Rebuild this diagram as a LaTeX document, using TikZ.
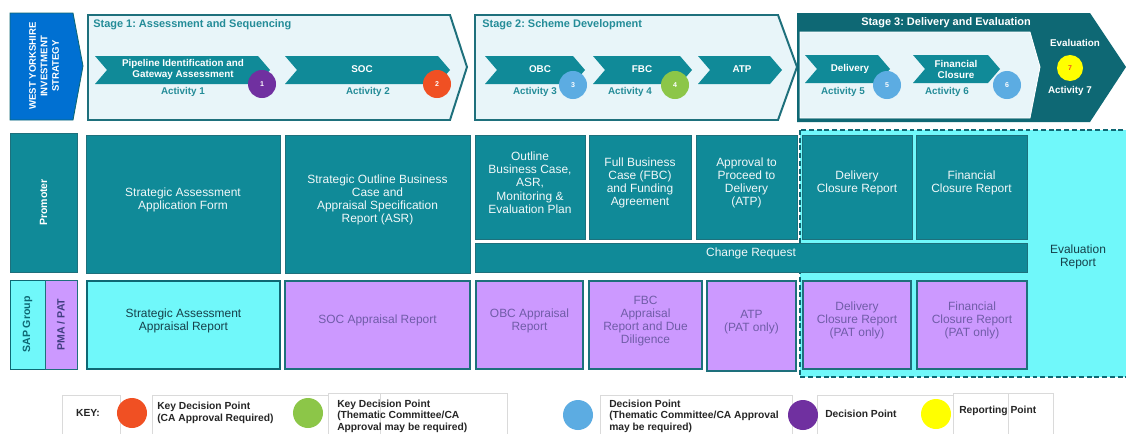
\documentclass[tikz,border=0pt]{standalone}
\usepackage{fontspec}
\setmainfont{Liberation Sans}
\usetikzlibrary{fit,positioning}

\definecolor{wyblue}{RGB}{0,112,210}
\definecolor{tealbox}{RGB}{16,138,152}
\definecolor{tealdark}{RGB}{14,104,116}
\definecolor{tealline}{RGB}{30,112,124}
\definecolor{stagetext}{RGB}{36,140,152}
\definecolor{stagefill}{RGB}{232,245,249}
\definecolor{cyanbox}{RGB}{112,248,250}
\definecolor{saptext}{RGB}{22,64,74}
\definecolor{lilac}{RGB}{204,153,255}
\definecolor{lilactext}{RGB}{112,92,168}
\definecolor{pmatext}{RGB}{64,62,128}
\definecolor{dpurple}{RGB}{112,48,160}
\definecolor{dorange}{RGB}{240,80,35}
\definecolor{dblue}{RGB}{92,172,226}
\definecolor{dgreen}{RGB}{140,198,72}
\definecolor{dyellow}{RGB}{255,255,0}
\definecolor{keyline}{RGB}{218,218,218}

\frenchspacing

\begin{document}
\begin{tikzpicture}[x=0.025cm, y=-0.025cm,
    every node/.style={font=\fontsize{8.5}{9.3}\selectfont},
    promobox/.style={draw=tealline, fill=tealbox, text=white!94!tealbox, align=center, inner sep=0pt, line width=0.6pt},
    patbox/.style={draw=tealline, fill=lilac, text=lilactext, align=center, inner sep=0pt, line width=0.9pt},
    sapbox/.style={draw=tealdark, fill=cyanbox, text=saptext, align=center, inner sep=0pt, line width=1pt},
    stagetitle/.style={font=\fontsize{7.8}{8.5}\selectfont\bfseries, text=stagetext, anchor=west, inner sep=0pt},
    actlabel/.style={font=\fontsize{7}{8}\selectfont\bfseries, text=stagetext, inner sep=0pt},
    acttext/.style={font=\fontsize{7}{7.8}\selectfont\bfseries, text=white, align=center, inner sep=0pt},
    decpt/.style={circle, minimum size=0.7cm, inner sep=0pt, text=white, font=\fontsize{5}{6}\selectfont\bfseries},
    keybox/.style={draw=keyline, line width=0.6pt},
    keytext/.style={font=\fontsize{7.3}{8.2}\selectfont\bfseries, text=black!85, align=left, anchor=west, inner sep=0pt},
    rowlabel/.style={rotate=90, font=\fontsize{7.5}{8.5}\selectfont\bfseries, inner sep=0pt, align=center}]

\useasboundingbox[fill=white] (0,0) rectangle (1126,434);

% strategy tab
\draw[fill=wyblue, draw=tealdark, line width=0.6pt] (10,13) -- (73,13) -- (83,66) -- (73,120) -- (10,120) -- cycle;
\node[rowlabel, text=white, font=\fontsize{6.8}{8.2}\selectfont\bfseries] (wyis) at (44,66) {WEST YORKSHIRE\\INVESTMENT\\STRATEGY};

% stage banners
\draw[fill=stagefill, draw=tealline, line width=1.4pt] (88,15) -- (450,15) -- (467,67) -- (450,120) -- (88,120) -- cycle;
\draw[fill=stagefill, draw=tealline, line width=1.4pt] (475,15) -- (778,15) -- (797,67) -- (778,120) -- (475,120) -- cycle;
\fill[tealdark] (797,13) -- (1090,13) -- (1126,67) -- (1090,122) -- (797,122) -- cycle;
\draw[fill=stagefill, draw=white, line width=0.6pt] (800,32) -- (1030,32) -- (1040,67) -- (1030,118) -- (800,118) -- cycle;

\node[stagetitle] (stage1) at (93,25) {Stage 1: Assessment and Sequencing};
\node[stagetitle] (stage2) at (482,25) {Stage 2: Scheme Development};
\node[stagetitle, anchor=center, text=white] (stage3) at (946,23) {Stage 3: Delivery and Evaluation};

% activity arrows
\foreach \xa/\xb/\ya in {95/270/56, 285/450/56, 485/585/56, 593/692/56, 698/782/56, 805/890/55, 913/1000/55}
  \fill[tealbox] (\xa,\ya) -- (\xb-12,\ya) -- (\xb,\ya+14) -- (\xb-12,\ya+28) -- (\xa,\ya+28) -- (\xa+12,\ya+14) -- cycle;

\node[acttext] (pipe) at (183,69) {Pipeline Identification and\\Gateway Assessment};
\node[acttext] (soc) at (362,69) {SOC};
\node[acttext] (obc) at (540,69) {OBC};
\node[acttext] (fbc) at (642,69) {FBC};
\node[acttext] (atp) at (742,69) {ATP};
\node[acttext] (deliv) at (850,69) {Delivery};
\node[acttext] (fincl) at (956,69) {Financial\\Closure};

\node[actlabel] (act1) at (183,92) {Activity 1};
\node[actlabel] (act2) at (368,92) {Activity 2};
\node[actlabel] (act3) at (535,92) {Activity 3};
\node[actlabel] (act4) at (630,92) {Activity 4};
\node[actlabel] (act5) at (843,92) {Activity 5};
\node[actlabel] (act6) at (947,92) {Activity 6};
\node[actlabel, text=white] (act7) at (1070,91) {Activity 7};
\node[actlabel, text=white] (evaltitle) at (1075,43) {Evaluation};

\node[decpt, fill=dpurple] (dp1) at (262,84) {1};
\node[decpt, fill=dorange] (dp2) at (437,84) {2};
\node[decpt, fill=dblue] (dp3) at (573,85) {3};
\node[decpt, fill=dgreen] (dp4) at (675,85) {4};
\node[decpt, fill=dblue] (dp5) at (887,85) {5};
\node[decpt, fill=dblue] (dp6) at (1007,85) {6};
\node[decpt, fill=dyellow, text=dorange, minimum size=0.65cm] (dp7) at (1070,68) {7};

% evaluation area
\draw[fill=cyanbox, draw=tealdark, line width=1pt, dash pattern=on 3.5pt off 2pt] (800,130) rectangle (1140,377);
\node[text=saptext, align=center] (evalrep) at (1078,257) {Evaluation\\Report};

% promoter row
\node[promobox, fit={(10,133) (77,272)}] (prombox) {};
\node[rowlabel, text=white] (promlabel) at (prombox.center) {Promoter};

\node[promobox, fit={(86,135) (280,273)}] (saform) {Strategic Assessment\\Application Form};
\node[promobox, fit={(285,135) (470,273)}] (socasr) {Strategic Outline  Business\\Case and\\Appraisal Specification\\Report (ASR)};
\node[promobox, fit={(475,135) (585,239)}] (obcplan) {Outline\\Business Case,\\ASR,\\Monitoring \&\\Evaluation Plan};
\node[promobox, fit={(589,135) (691,239)}] (fbcfund) {Full Business\\Case (FBC)\\and Funding\\Agreement};
\node[promobox, fit={(696,135) (797,239)}] (atpdel) {Approval to\\Proceed to\\Delivery\\(ATP)};
\node[promobox, fit={(802,135) (912,239)}] (delrep) {Delivery\\Closure Report};
\node[promobox, fit={(916,135) (1027,239)}] (finrep) {Financial\\Closure  Report};
\node[promobox, fit={(475,243) (1027,272)}] (change) {Change Request};

% appraisal row
\node[sapbox, line width=0.6pt, fit={(10,280) (45,369)}] (sapbox) {};
\node[rowlabel, text=tealdark] (saplabel) at (sapbox.center) {SAP Group};
\node[patbox, line width=0.6pt, fit={(45,280) (77,369)}] (pmabox) {};
\node[rowlabel, text=pmatext] (pmalabel) at (pmabox.center) {PMA / PAT};

\node[sapbox, fit={(87,281) (280,369)}] (saappr) {Strategic Assessment\\Appraisal Report};
\node[patbox, fit={(285,281) (470,369)}] (socappr) {SOC Appraisal Report};
\node[patbox, fit={(476,281) (583,369)}] (obcappr) {OBC Appraisal\\Report};
\node[patbox, fit={(589,281) (702,369)}] (fbcappr) {FBC\\Appraisal\\Report and Due\\Diligence};
\node[patbox, fit={(707,281) (796,371)}] (atpappr) {ATP\\(PAT only)};
\node[patbox, fit={(803,281) (911,369)}] (delappr) {Delivery\\Closure Report\\(PAT only)};
\node[patbox, fit={(917,281) (1027,369)}] (finappr) {Financial\\Closure Report\\(PAT only)};

% key
\draw[keybox] (62,395) rectangle (120,436);
\draw[keybox] (152,395) rectangle (328,436);
\draw[keybox] (328,393) rectangle (507,436) (380,393) -- (380,436);
\draw[keybox] (600,395) rectangle (792,436);
\draw[keybox] (817,395) rectangle (953,436);
\draw[keybox] (953,393) rectangle (1053,436) (1008,393) -- (1008,436);

\node[keytext, anchor=center] (key) at (88,413) {KEY:};
\node[decpt, fill=dorange, minimum size=0.75cm] (kdorange) at (132,413) {};
\node[keytext] (kdtext) at (157,413) {Key Decision Point\\(CA Approval Required)};
\node[decpt, fill=dgreen, minimum size=0.75cm] (kdgreen) at (308,413) {};
\node[keytext] (kdtctext) at (337,416) {Key Decision Point\\(Thematic Committee/CA\\Approval may be required)};
\node[decpt, fill=dblue, minimum size=0.75cm] (dpblue) at (578,415) {};
\node[keytext] (dptctext) at (609,416) {Decision Point\\(Thematic Committee/CA Approval\\may be required)};
\node[decpt, fill=dpurple, minimum size=0.75cm] (dppurple) at (803,415) {};
\node[keytext] (dptext) at (825,414) {Decision Point};
\node[decpt, fill=dyellow, minimum size=0.75cm] (rpyellow) at (936,414) {};
\node[keytext] (rptext) at (959,411) {Reporting Point};
\end{tikzpicture}
\end{document}
